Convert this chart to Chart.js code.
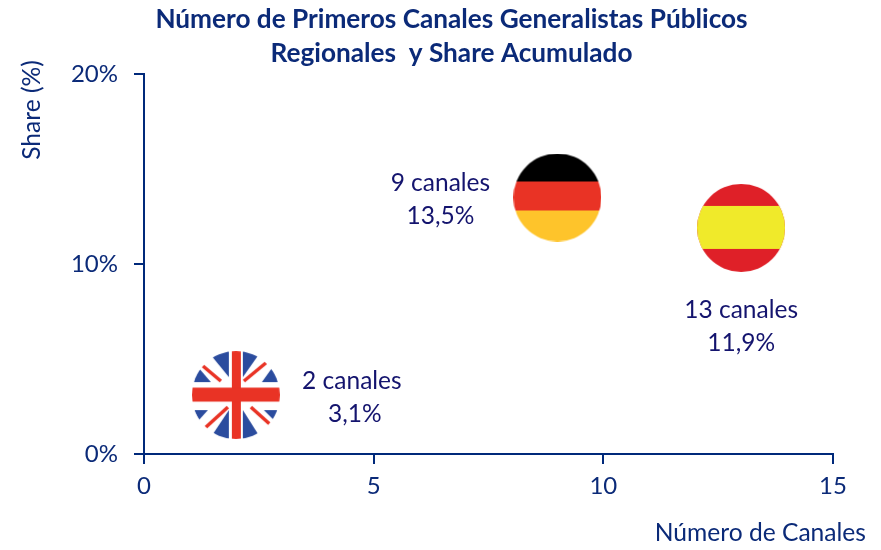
<!DOCTYPE html>
<html><head><meta charset="utf-8">
<style>html,body{margin:0;padding:0;background:#fff}#w{width:881px;height:550px}</style>
<script src="https://cdn.jsdelivr.net/npm/chart.js@4"></script></head>
<body><div id="w"><canvas id="c" width="881" height="550"></canvas></div>
<script>
const countries = ['Reino Unido', 'Alemania', 'España'];
const canales = [2, 9, 13];
const share = [3.1, 13.5, 11.9];
const labelCanales = ['2 canales', '9 canales', '13 canales'];
const labelShare = ['3,1%', '13,5%', '11,9%'];
const xTicks = [0, 5, 10, 15];
const yTicks = [0, 10, 20];
const titleLines = ['Número de Primeros Canales Generalistas Públicos', 'Regionales  y Share Acumulado'];
const xTitle = 'Número de Canales';
const yTitle = 'Share (%)';

const AXIS = '#00297a', TXT = '#0b2a78', LBL = '#14146e';
const FONT = 'Lato, Carlito, sans-serif';
const R = 44;

function flag(draw) {
  const c = document.createElement('canvas');
  c.width = c.height = 2 * R;
  const g = c.getContext('2d');
  g.beginPath(); g.arc(R, R, R, 0, 2 * Math.PI); g.clip();
  draw(g);
  return c;
}
const de = flag(g => {
  g.fillStyle = '#000'; g.fillRect(0, 0, 88, 28);
  g.fillStyle = '#e93325'; g.fillRect(0, 28, 88, 29);
  g.fillStyle = '#fec42b'; g.fillRect(0, 57, 88, 31);
});
const es = flag(g => {
  g.fillStyle = '#df2028'; g.fillRect(0, 0, 88, 88);
  g.fillStyle = '#f0ea2a'; g.fillRect(0, 22, 88, 43);
});
const uk = flag(g => {
  g.fillStyle = '#fff'; g.fillRect(0, 0, 88, 88);
  g.fillStyle = '#2b4c9e';
  [[[15,-1],[37,-1],[37,26]], [[0,31],[19,31],[7,17]],
   [[51,-1],[70,-1],[51,26]], [[70,31],[88,31],[80,17]],
   [[37,59],[37,89],[17,89]], [[2,59],[16,59],[7,69]],
   [[51,59],[51,89],[70,89]], [[72,59],[88,59],[82,69]]].forEach(p => {
    g.beginPath(); g.moveTo(p[0][0], p[0][1]); g.lineTo(p[1][0], p[1][1]); g.lineTo(p[2][0], p[2][1]); g.closePath(); g.fill();
  });
  g.strokeStyle = '#e93325'; g.lineWidth = 3.5;
  [[10,14,29,30], [52,30,75,11], [13,77,36,56], [59,56,79,74]].forEach(l => {
    g.beginPath(); g.moveTo(l[0], l[1]); g.lineTo(l[2], l[3]); g.stroke();
  });
  g.fillStyle = '#e93325'; g.fillRect(40, 0, 9, 88); g.fillRect(0, 36.5, 88, 14);
});
const flags = [uk, de, es];

const annotations = {
  id: 'annotations',
  afterLayout(chart) {
    chart.titleBlock.left += 35; chart.titleBlock.right += 35;
  },
  afterDraw(chart) {
    const { ctx, scales: { x, y } } = chart;
    const off = [[116, -14, 119, 19], [-117, -14, -117, 19], [0, 82, 0, 115]];
    ctx.save();
    ctx.textAlign = 'center'; ctx.textBaseline = 'middle';
    ctx.fillStyle = LBL; ctx.font = '24.5px ' + FONT;
    canales.forEach((v, i) => {
      const px = x.getPixelForValue(v), py = y.getPixelForValue(share[i]);
      const o = off[i];
      ctx.fillText(labelCanales[i], px + o[0], py + o[1]);
      ctx.fillText(labelShare[i], px + o[2], py + o[3]);
    });
    ctx.fillStyle = TXT; ctx.font = '24.6px ' + FONT;
    ctx.textAlign = 'right';
    ctx.fillText(xTitle, 866, 533);
    ctx.translate(32, 110); ctx.rotate(-Math.PI / 2);
    ctx.textAlign = 'center';
    ctx.fillText(yTitle, 0, 0);
    ctx.restore();
  }
};

new Chart(document.getElementById('c'), {
  type: 'scatter',
  data: {
    datasets: countries.map((name, i) => ({
      label: name,
      data: [{ x: canales[i], y: share[i] }],
      pointStyle: flags[i],
      pointRadius: R,
      pointHoverRadius: R
    }))
  },
  options: {
    responsive: false,
    animation: false,
    events: [],
    layout: { padding: { left: 0, right: 48, top: 0, bottom: 0 } },
    plugins: {
      legend: { display: false },
      tooltip: { enabled: false },
      title: {
        display: true,
        text: titleLines,
        color: TXT,
        font: { family: FONT, size: 26.2, weight: 'bold', lineHeight: '34px' },
        padding: { top: 3, bottom: 3 }
      }
    },
    scales: {
      x: {
        type: 'linear', min: 0, max: 15,
        afterFit(s) { s.height = 96; },
        afterBuildTicks(s) { s.ticks = xTicks.map(v => ({ value: v })); },
        grid: { display: true, drawOnChartArea: false, drawTicks: true, tickLength: 10, tickColor: AXIS, tickWidth: 2, color: AXIS, lineWidth: 2 },
        border: { display: true, color: AXIS, width: 2 },
        ticks: { color: TXT, font: { family: FONT, size: 24 }, padding: 8, maxRotation: 0 }
      },
      y: {
        type: 'linear', min: 0, max: 20,
        afterFit(s) { s.width = 144; },
        afterBuildTicks(s) { s.ticks = yTicks.map(v => ({ value: v })); },
        grid: { display: true, drawOnChartArea: false, drawTicks: true, tickLength: 10, tickColor: AXIS, tickWidth: 2, color: AXIS, lineWidth: 2 },
        border: { display: true, color: AXIS, width: 2 },
        ticks: { color: TXT, font: { family: FONT, size: 24 }, padding: 16, callback: v => v + '%' }
      }
    }
  },
  plugins: [annotations]
});
</script></body></html>
